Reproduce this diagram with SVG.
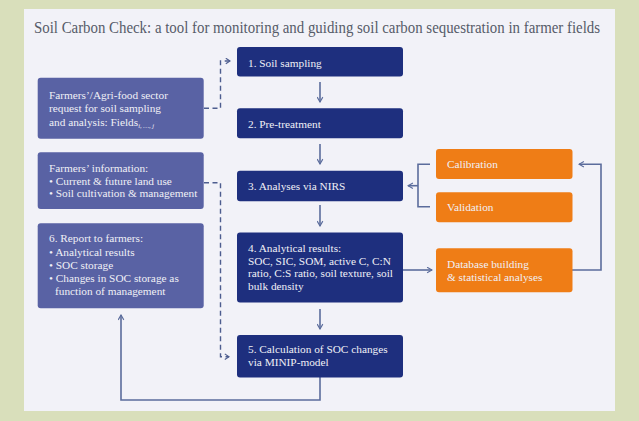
<svg xmlns="http://www.w3.org/2000/svg" width="639" height="421" viewBox="0 0 639 421">
<defs>
<style>
text{font-family:'Liberation Serif','Times New Roman',serif}
.t{font-size:11.3px;fill:#f0f0f6}
.dk{fill:#1e2f7e}
.lt{fill:#5962a4}
.or{fill:#ef7d16}
.c{fill:none;stroke:#5b6c9c;stroke-width:1.6}
.d{fill:none;stroke:#4d5d8f;stroke-width:1.4;stroke-dasharray:5 3.5}
</style>
<marker id="a" viewBox="0 0 10 10" refX="9" refY="5" markerWidth="7" markerHeight="7" orient="auto" markerUnits="userSpaceOnUse">
<path d="M2,1 L9,5 L2,9" fill="none" stroke="#5b6c9c" stroke-width="1.6"/>
</marker>
<marker id="ad" viewBox="0 0 10 10" refX="9" refY="5" markerWidth="7" markerHeight="7" orient="auto" markerUnits="userSpaceOnUse">
<path d="M3,1 L9,5 L3,9" fill="none" stroke="#4d5d8f" stroke-width="1.6"/>
</marker>
</defs>
<rect width="639" height="421" fill="#d9dfbb"/>
<rect x="24" y="9" width="591" height="402" fill="#f2f2f8"/>
<text x="34" y="33" font-family="Liberation Serif, Times New Roman, serif" font-size="16" fill="#565b68" textLength="566" lengthAdjust="spacingAndGlyphs">Soil Carbon Check:  a tool for monitoring and guiding soil carbon sequestration in farmer fields</text>

<g id="connectors">
<line class="c" x1="320" y1="82" x2="320" y2="102" marker-end="url(#a)"/>
<line class="c" x1="320" y1="144" x2="320" y2="164" marker-end="url(#a)"/>
<line class="c" x1="320" y1="205" x2="320" y2="226" marker-end="url(#a)"/>
<line class="c" x1="320" y1="309" x2="320" y2="329" marker-end="url(#a)"/>
<line class="c" x1="403" y1="270" x2="432" y2="270" marker-end="url(#a)"/>
<polyline class="c" points="430,164.3 418,164.3 418,206.7 430,206.7"/>
<line class="c" x1="418" y1="185.7" x2="408" y2="185.7" marker-end="url(#a)"/>
<polyline class="c" points="572,270 601,270 601,164.3 579,164.3" marker-end="url(#a)"/>
<polyline class="c" points="320,377 320,400 121,400 121,315" marker-end="url(#a)"/>
<polyline class="d" points="204,108.3 220.5,108.3 220.5,61 230,61" marker-end="url(#ad)"/>
<polyline class="d" points="204,182.7 220.5,182.7 220.5,356.7 229,356.7" marker-end="url(#ad)"/>
</g>

<g id="n1" font-family="Liberation Serif, serif"><rect class="dk" x="237" y="47" width="166" height="29.5" rx="3"/>
<text class="t" x="248" y="67">1. Soil sampling</text></g>
<g id="n2" font-family="Liberation Serif, serif"><rect class="dk" x="237" y="108.3" width="166" height="30" rx="3"/>
<text class="t" x="248" y="127.5">2. Pre-treatment</text></g>
<g id="n3" font-family="Liberation Serif, serif"><rect class="dk" x="237" y="170.7" width="166" height="30.5" rx="3"/>
<text class="t" x="248" y="189.5">3. Analyses via NIRS</text></g>
<g id="n4" font-family="Liberation Serif, serif"><rect class="dk" x="237" y="232.5" width="166" height="70" rx="3"/>
<text class="t" x="248" y="252">4. Analytical results:</text>
<text class="t" x="248" y="264.7">SOC, SIC, SOM, active C, C:N</text>
<text class="t" x="248" y="277.4">ratio, C:S ratio, soil texture, soil</text>
<text class="t" x="248" y="290.1">bulk density</text></g>
<g id="n5" font-family="Liberation Serif, serif"><rect class="dk" x="237" y="335" width="166" height="42.5" rx="3"/>
<text class="t" x="248" y="352.5">5. Calculation of SOC changes</text>
<text class="t" x="248" y="365.8">via MINIP-model</text></g>

<g id="cal" font-family="Liberation Serif, serif"><rect class="or" x="436" y="149" width="136.5" height="30" rx="3"/>
<text class="t" x="447" y="168.3">Calibration</text></g>
<g id="val" font-family="Liberation Serif, serif"><rect class="or" x="436" y="192.3" width="136.5" height="30" rx="3"/>
<text class="t" x="447" y="211.3">Validation</text></g>
<g id="db" font-family="Liberation Serif, serif"><rect class="or" x="436" y="248.3" width="136.5" height="44" rx="3"/>
<text class="t" x="447" y="267.7">Database building</text>
<text class="t" x="447" y="280.5">&amp; statistical analyses</text></g>

<g id="req" font-family="Liberation Serif, serif"><rect class="lt" x="37.7" y="77.7" width="166" height="61" rx="3"/>
<text class="t" x="49" y="99.3">Farmers’/Agri-food sector</text>
<text class="t" x="49" y="112.3">request for soil sampling</text>
<text class="t" x="49" y="125.5">and analysis: Fields<tspan font-size="6.5" font-style="italic" dy="2">i, …, j</tspan></text></g>
<g id="info" font-family="Liberation Serif, serif"><rect class="lt" x="37.7" y="152.3" width="166" height="56.7" rx="3"/>
<text class="t" x="49" y="171.7">Farmers’ information:</text>
<text class="t" x="49" y="184.5">• Current &amp; future land use</text>
<text class="t" x="49" y="197.3">• Soil cultivation &amp; management</text></g>
<g id="report" font-family="Liberation Serif, serif"><rect class="lt" x="37.7" y="223.3" width="166" height="85" rx="3"/>
<text class="t" x="49" y="242.3">6. Report to farmers:</text>
<text class="t" x="49" y="255.5">• Analytical results</text>
<text class="t" x="49" y="268.8">• SOC storage</text>
<text class="t" x="49" y="282.1">• Changes in SOC storage as</text>
<text class="t" x="55" y="295.3">function of management</text></g>
</svg>
